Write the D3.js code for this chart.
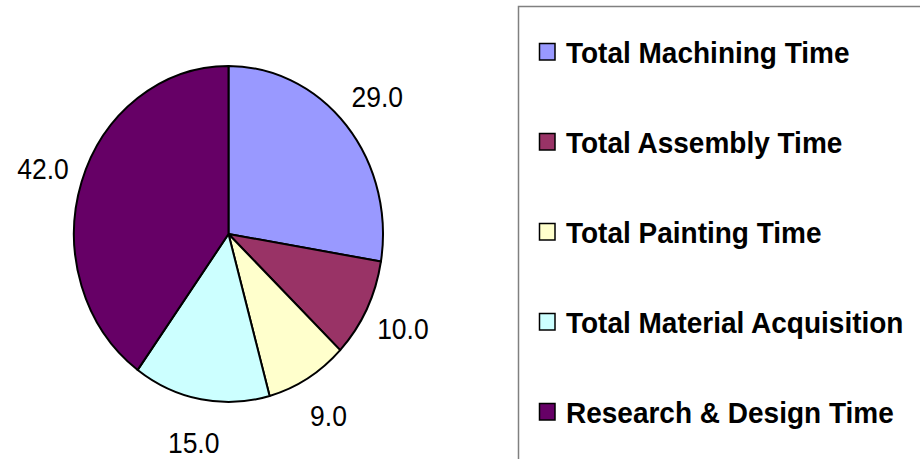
<!DOCTYPE html>
<html>
<head>
<meta charset="utf-8">
<script src="https://d3js.org/d3.v7.min.js"></script>
<style>
  body { margin: 0; background: #fff; }
  svg { display: block; }
</style>
</head>
<body>
<script>
// Chart data
const categories = ['Total Machining Time', 'Total Assembly Time', 'Total Painting Time',
  'Total Material Acquisition', 'Research & Design Time'];
const values = [29.0, 10.0, 9.0, 15.0, 42.0];
const colors = ['#9999ff', '#993366', '#ffffcc', '#ccffff', '#660066'];

const width = 920;
const height = 459;
const stretchY = 1.085; // reference is slightly stretched vertically

const svg = d3.select('body').append('svg')
  .attr('width', width)
  .attr('height', height);

// Pie
const cx = 228.5, cy = 234;
const rx = 154.5, ry = 168;
const labelR = 195;

const pie = d3.pie().sort(null).value(d => d)(values);
const arc = d3.arc().innerRadius(0).outerRadius(rx);

const pieGroup = svg.append('g')
  .attr('transform', `translate(${cx},${cy}) scale(1,${ry / rx})`);

pieGroup.selectAll('path')
  .data(pie)
  .enter().append('path')
  .attr('d', arc)
  .attr('fill', (d, i) => colors[i])
  .attr('stroke', '#000')
  .attr('stroke-width', 2)
  .attr('vector-effect', 'non-scaling-stroke')
  .attr('stroke-linejoin', 'round');

// Data labels, outside each slice
svg.append('g').selectAll('text')
  .data(pie)
  .enter().append('text')
  .attr('transform', d => {
    const a = (d.startAngle + d.endAngle) / 2;
    const x = cx + Math.sin(a) * labelR;
    const y = cy - Math.cos(a) * labelR * (ry / rx);
    return `translate(${x},${y}) scale(1,${stretchY})`;
  })
  .attr('text-anchor', 'middle')
  .attr('dy', '0.36em')
  .style('font-family', '"Liberation Sans", Arial, sans-serif')
  .style('font-size', '26.5px')
  .style('fill', '#000')
  .text(d => d.data.toFixed(1));

// Legend
const legend = svg.append('g');
legend.append('rect')
  .attr('x', 518.5)
  .attr('y', 6.5)
  .attr('width', 600)
  .attr('height', 600)
  .attr('fill', '#fff')
  .attr('stroke', '#808080')
  .attr('stroke-width', 1.5);

const legendY = d3.scalePoint().domain(categories).range([52, 412]);

const item = legend.selectAll('g.item')
  .data(categories)
  .enter().append('g')
  .attr('class', 'item')
  .attr('transform', d => `translate(0,${legendY(d)})`);

item.append('rect')
  .attr('x', 539.5)
  .attr('y', -8.5)
  .attr('width', 15.5)
  .attr('height', 16.5)
  .attr('fill', (d, i) => colors[i])
  .attr('stroke', '#000')
  .attr('stroke-width', 1.5);

item.append('text')
  .attr('transform', `translate(566,0) scale(1,${stretchY})`)
  .attr('dy', '0.36em')
  .style('font-family', '"Liberation Sans", Arial, sans-serif')
  .style('font-size', '28px')
  .style('font-weight', 'bold')
  .style('fill', '#000')
  .text(d => d);
</script>
</body>
</html>
